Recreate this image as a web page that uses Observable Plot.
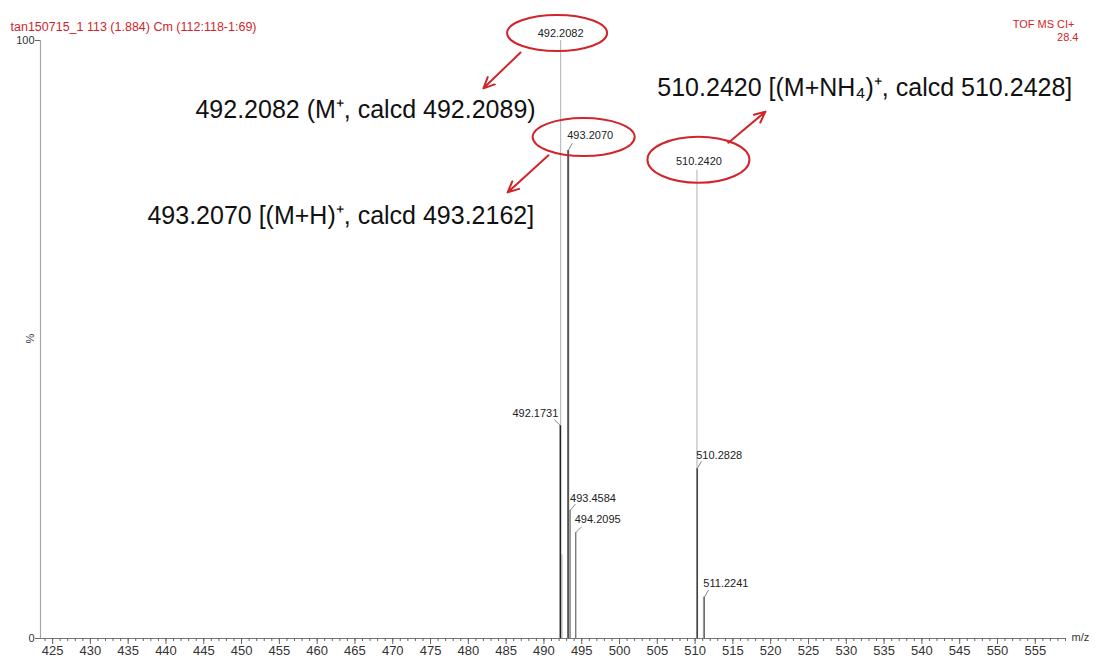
<!DOCTYPE html>
<html><head><meta charset="utf-8">
<script src="https://cdn.jsdelivr.net/npm/d3@7"></script>
<script src="https://cdn.jsdelivr.net/npm/@observablehq/plot@0.6"></script>
<style>body{margin:0;background:#fff} #chart{width:1096px;height:659px}</style>
</head><body><div id="chart"></div>
<script>
// ---- data ----
const runTitle = "tan150715_1 113 (1.884) Cm (112:118-1:69)";
const modeLabel = "TOF MS CI+";
const maxIntensityLabel = "28.4";
const peakMz =        [492.2082, 493.2070, 510.2420, 492.1731, 492.37, 493.4584, 494.2095, 510.2828, 511.10, 511.2241];
const peakIntensity = [100,      81.6,     78.3,     35.6,     14.0,   21.4,     17.7,     28.4,     6.9,    6.9];
const peakLabel =     ["492.2082","493.2070","510.2420","492.1731","","493.4584","494.2095","510.2828","","511.2241"];
const circledLabels = ["492.2082","493.2070","510.2420"];
const assignments = ["492.2082 (M\u207A, calcd 492.2089)", "493.2070 [(M+H)\u207A, calcd 493.2162]", "510.2420 [(M+NH\u2084)\u207A, calcd 510.2428]"];
const assignMz = [443.9, 437.55, 505.0];
const assignY = [88.3, 70.7, 92.0];
const arrowFromMz = [486.9, 490.6, 514.4];
const arrowFromY  = [98.0, 80.8, 82.9];
const arrowToMz   = [482.0, 485.2, 519.3];
const arrowToY    = [92.0, 74.6, 88.1];
const xTickValues = d3.range(425, 560, 5);
const xMinorTicks = d3.range(424, 560, 1);
const yTickValues = [0, 100];

// ---- layout / style (not data) ----
const FONT = "'Liberation Sans', Arial, sans-serif";
const RED = "#d0262b";
const peakStyle = {
  "492.2082": {stroke: "#bdbdbd", w: 1.2},
  "510.2420": {stroke: "#bdbdbd", w: 1.2},
  "493.2070": {stroke: "#555", w: 2},
  "492.1731": {stroke: "#222", w: 1.6},
  "510.2828": {stroke: "#444", w: 1.6},
};
const labelOffset = {
  "492.2082": {dx: 0, dy: -7, anchor: "middle"},
  "510.2420": {dx: 2, dy: -9, anchor: "middle"},
  "493.2070": {dx: 22, dy: -15, anchor: "middle"},
  "492.1731": {dx: -2, dy: -12, anchor: "end"},
  "493.4584": {dx: 0, dy: -12, anchor: "start"},
  "494.2095": {dx: -1, dy: -13, anchor: "start"},
  "510.2828": {dx: -1, dy: -13, anchor: "start"},
  "511.2241": {dx: -1, dy: -14, anchor: "start"},
};
const leaderAngle = {"492.1731": -45, "493.2070": 30, "493.4584": 40, "494.2095": 45, "510.2828": 30, "511.2241": 30};
const ellipseGeom = {
  "492.2082": {dx: -3, dy: -7, rx: 50, ry: 18},
  "493.2070": {dx: 16, dy: -13, rx: 51, ry: 19},
  "510.2420": {dx: 2, dy: -10, rx: 51, ry: 23},
};

const peaks = peakMz.map((mz, i) => ({mz, h: peakIntensity[i], label: peakLabel[i]}));
const labeled = peaks.filter(d => d.label);
const leaders = labeled.filter(d => leaderAngle[d.label] !== undefined);
const assign = assignments.map((t, i) => ({t, x: assignMz[i], y: assignY[i]}));
const arrows = arrowFromMz.map((x1, i) => ({x1, y1: arrowFromY[i], x2: arrowToMz[i], y2: arrowToY[i]}));

const lineShape = {draw(ctx, l) { ctx.moveTo(0, 0); ctx.lineTo(0, -l); }};

const plot = Plot.plot({
  width: 1096, height: 659,
  marginLeft: 40, marginRight: 31, marginTop: 40, marginBottom: 21,
  style: {fontFamily: FONT, background: "#fff"},
  x: {domain: [423.4, 559]},
  y: {domain: [0, 100]},
  marks: [
    Plot.ruleY([0], {stroke: "#777", strokeWidth: 1}),
    Plot.ruleX([423.4], {y1: 0, y2: 100, stroke: "#a5a5a5", strokeWidth: 1.2}),
    Plot.axisX({ticks: xMinorTicks, tickSize: 3, text: null, label: null, stroke: "#666"}),
    Plot.axisX({ticks: xTickValues, tickSize: 6, tickPadding: 1, label: null, stroke: "#666", fill: "#333", fontSize: 13, tickFormat: d => d}),
    Plot.axisY({ticks: yTickValues, tickSize: 5, tickPadding: 1, label: null, stroke: "#666", fill: "#333", fontSize: 11}),
    Plot.text(["m/z"], {frameAnchor: "bottom-right", dx: 6, dy: 2, textAnchor: "start", fontSize: 11, fill: "#333"}),
    Plot.text(["%"], {frameAnchor: "left", dx: -10, dy: 4, rotate: -90, fontSize: 11, fill: "#333"}),
    Plot.text([runTitle], {frameAnchor: "top-left", dx: -30, dy: -18, textAnchor: "start", fontSize: 12.5, fill: RED}),
    Plot.text([modeLabel], {frameAnchor: "top-right", dx: 9, dy: -20, textAnchor: "end", fontSize: 11, fill: RED}),
    Plot.text([maxIntensityLabel], {frameAnchor: "top-right", dx: 13, dy: -7, textAnchor: "end", fontSize: 11, fill: RED}),
    Plot.ruleX(peaks, {x: "mz", y1: 0, y2: "h",
      stroke: d => (peakStyle[d.label] || {stroke: d.label ? "#666" : "#aaa"}).stroke,
      strokeWidth: d => (peakStyle[d.label] || {w: 1.2}).w}),
    Plot.vector(leaders, {x: "mz", y: "h", anchor: "start", length: 8, rotate: d => leaderAngle[d.label],
      shape: lineShape, stroke: "#777", strokeWidth: 0.8}),
    ...Object.keys(labelOffset).map(k => Plot.text(labeled.filter(d => d.label === k), {
      x: "mz", y: "h", text: "label", textAnchor: labelOffset[k].anchor,
      dx: labelOffset[k].dx, dy: labelOffset[k].dy, fontSize: 11, fill: "#222"})),
    Plot.text(assign, {x: "x", y: "y", text: "t", textAnchor: "start", fontSize: 25, fill: "#111"}),
    Plot.arrow(arrows, {x1: "x1", y1: "y1", x2: "x2", y2: "y2", stroke: RED, strokeWidth: 2, headLength: 9, headAngle: 50})
  ]
});

const xs = plot.scale("x"), ys = plot.scale("y");
const ell = labeled.filter(d => circledLabels.includes(d.label)).map(d => {
  const g = ellipseGeom[d.label];
  return {cx: xs.apply(d.mz) + g.dx, cy: ys.apply(d.h) + g.dy, rx: g.rx, ry: g.ry};
});
d3.select(plot).append("g").selectAll("ellipse").data(ell).join("ellipse")
  .attr("cx", d => d.cx).attr("cy", d => d.cy).attr("rx", d => d.rx).attr("ry", d => d.ry)
  .attr("fill", "none").attr("stroke", RED).attr("stroke-width", 2);

document.getElementById("chart").appendChild(plot);
</script>
</body></html>
